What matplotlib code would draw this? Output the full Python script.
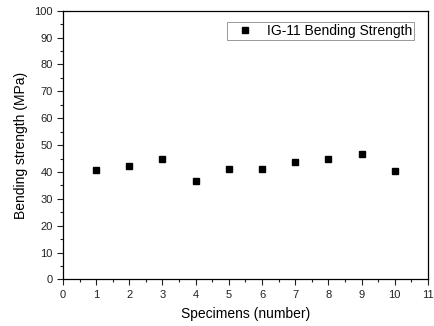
import matplotlib
matplotlib.use("Agg")
from matplotlib import pyplot as plt
from matplotlib.ticker import MultipleLocator

plt.rcParams['font.family'] = ['Liberation Sans', 'DejaVu Sans']

specimens = [1, 2, 3, 4, 5, 6, 7, 8, 9, 10]
strength = [40.7, 42.3, 44.9, 36.8, 41.1, 41.1, 43.8, 44.9, 46.5, 40.4]

f = plt.figure(figsize=(4.34, 3.26), dpi=100)
ax1 = f.add_axes([0.145, 0.143, 0.841, 0.824])

ax1.plot(specimens, strength, 's', color='black', markersize=5,
         label='IG-11 Bending Strength')

ax1.set_xlim(0, 11)
ax1.set_ylim(0, 100)
ax1.xaxis.set_major_locator(MultipleLocator(1))
ax1.xaxis.set_minor_locator(MultipleLocator(0.5))
ax1.yaxis.set_major_locator(MultipleLocator(10))
ax1.yaxis.set_minor_locator(MultipleLocator(5))
ax1.tick_params(which='both', direction='out', top=False, right=False,
                labelsize=8, colors='#222222', width=0.8)
ax1.tick_params(which='major', length=4)
ax1.tick_params(which='minor', length=2)
for s in ax1.spines.values():
    s.set_linewidth(0.9)

ax1.set_xlabel('Specimens (number)', fontsize=10, labelpad=5)
ax1.set_ylabel('Bending strength (MPa)', fontsize=10)

leg = ax1.legend(loc='upper right', fontsize=10, fancybox=False,
                 edgecolor='#888888', framealpha=1, borderpad=0.15,
                 handletextpad=0.4, handlelength=2.3, borderaxespad=0,
                 bbox_to_anchor=(0.962, 0.958))
leg.get_frame().set_linewidth(0.6)

f.savefig('out.png', dpi=100)
